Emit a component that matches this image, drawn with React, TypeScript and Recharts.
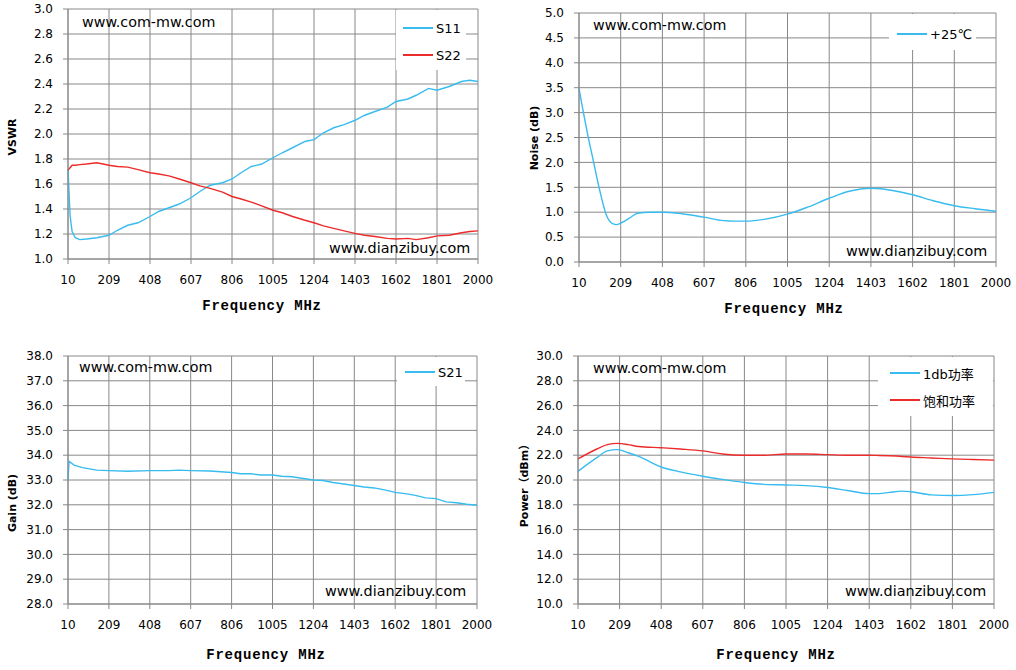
import React from 'react';
import { LineChart, Line, XAxis, YAxis, CartesianGrid } from 'recharts';

// ---------- shared axis ----------
const freqTicks = [10, 209, 408, 607, 806, 1005, 1204, 1403, 1602, 1801, 2000];

// ---------- chart 1: VSWR ----------
const vswrFreq = [10, 20, 30, 45, 67, 100, 150, 209, 250, 300, 350, 408, 450, 500, 550, 607, 650, 700, 760, 806, 850, 900, 950, 1005, 1050, 1100, 1160, 1204, 1250, 1300, 1350, 1403, 1450, 1500, 1560, 1602, 1660, 1700, 1760, 1801, 1860, 1920, 1960, 2000];
const s11 = [1.72, 1.35, 1.22, 1.17, 1.155, 1.16, 1.17, 1.19, 1.23, 1.27, 1.29, 1.34, 1.38, 1.41, 1.44, 1.49, 1.54, 1.59, 1.61, 1.64, 1.69, 1.74, 1.76, 1.81, 1.85, 1.89, 1.94, 1.955, 2.01, 2.05, 2.075, 2.11, 2.15, 2.18, 2.215, 2.26, 2.28, 2.31, 2.365, 2.35, 2.38, 2.42, 2.43, 2.42];
const s22 = [1.71, 1.73, 1.75, 1.75, 1.755, 1.76, 1.77, 1.75, 1.74, 1.735, 1.715, 1.69, 1.68, 1.665, 1.64, 1.61, 1.585, 1.565, 1.535, 1.5, 1.48, 1.455, 1.425, 1.39, 1.37, 1.34, 1.31, 1.29, 1.265, 1.245, 1.225, 1.205, 1.19, 1.18, 1.165, 1.16, 1.165, 1.155, 1.17, 1.185, 1.19, 1.21, 1.22, 1.225];
const vswrTicks = [1.0, 1.2, 1.4, 1.6, 1.8, 2.0, 2.2, 2.4, 2.6, 2.8, 3.0];

// ---------- chart 2: Noise ----------
const noiseFreq = [10, 50, 80, 110, 140, 170, 190, 209, 250, 290, 350, 408, 500, 607, 700, 750, 806, 900, 1005, 1100, 1204, 1300, 1403, 1450, 1500, 1602, 1700, 1801, 1900, 2000];
const noise25 = [3.48, 2.59, 2.0, 1.42, 0.95, 0.77, 0.75, 0.78, 0.88, 0.98, 1.0, 1.0, 0.97, 0.9, 0.83, 0.82, 0.82, 0.86, 0.96, 1.1, 1.28, 1.42, 1.48, 1.47, 1.44, 1.35, 1.23, 1.13, 1.07, 1.02];
const noiseTicks = [0, 0.5, 1.0, 1.5, 2.0, 2.5, 3.0, 3.5, 4.0, 4.5, 5.0];

// ---------- chart 3: Gain ----------
const gainFreq = [10, 15, 40, 80, 150, 209, 300, 408, 500, 550, 607, 700, 806, 850, 900, 950, 1005, 1050, 1100, 1204, 1250, 1300, 1403, 1450, 1500, 1550, 1602, 1650, 1700, 1750, 1801, 1850, 1900, 1950, 2000];
const s21 = [33.0, 33.75, 33.6, 33.5, 33.4, 33.38, 33.35, 33.38, 33.38, 33.4, 33.38, 33.36, 33.3, 33.25, 33.25, 33.2, 33.2, 33.15, 33.13, 33.0, 32.98, 32.9, 32.78, 32.72, 32.68, 32.6, 32.5, 32.45, 32.38, 32.28, 32.25, 32.12, 32.08, 32.02, 31.98];
const gainTicks = [28, 29, 30, 31, 32, 33, 34, 35, 36, 37, 38];

// ---------- chart 4: Power ----------
const powerFreq = [10, 100, 150, 200, 250, 300, 408, 500, 607, 700, 806, 900, 1005, 1100, 1204, 1300, 1403, 1450, 1500, 1560, 1602, 1700, 1801, 1900, 2000];
const p1db = [20.7, 21.8, 22.35, 22.45, 22.2, 21.9, 21.05, 20.65, 20.3, 20.05, 19.8, 19.65, 19.6, 19.55, 19.4, 19.15, 18.9, 18.9, 19.0, 19.1, 19.05, 18.8, 18.75, 18.82, 19.0];
const psat = [21.7, 22.5, 22.85, 22.95, 22.85, 22.7, 22.6, 22.5, 22.35, 22.1, 22.0, 22.0, 22.1, 22.1, 22.05, 22.0, 22.0, 21.98, 21.95, 21.9, 21.85, 21.78, 21.7, 21.65, 21.6];
const powerTicks = [10, 12, 14, 16, 18, 20, 22, 24, 26, 28, 30];

const BLUE = '#38BCEF';
const RED = '#EC2B2B';
const GRID = '#888888';
const SANS = '"DejaVu Sans", "Noto Sans CJK SC", sans-serif';
const MONO = '"Liberation Mono", "DejaVu Sans Mono", monospace';

type Series = { key: string; name: string; color: string; values: number[] };

type PanelProps = {
  left: number; top: number; width: number; height: number;
  plot: { x1: number; y1: number; x2: number; y2: number }; // page coords
  freq: number[];
  series: Series[];
  yTicks: number[];
  yTitle: string;
  yTitlePos: [number, number];
  xTitlePos: [number, number];
  curve: 'linear' | 'monotone';
  legendBox: { x: number; y: number; w: number; h: number };
  legendItems: { lineX: number; y: number }[];
  mark1: [number, number];
  mark2: [number, number];
};

function Panel(p: PanelProps) {
  const data = p.freq.map((f, i) => {
    const row: Record<string, number> = { f };
    p.series.forEach((s) => { row[s.key] = s.values[i]; });
    return row;
  });
  const yW = p.plot.x1 - p.left;
  const mTop = p.plot.y1 - p.top;
  const mRight = p.left + p.width - p.plot.x2;
  const xH = p.top + p.height - p.plot.y2;
  const yt: [number, number] = [p.yTitlePos[0] - p.left, p.yTitlePos[1] - p.top];
  const xt: [number, number] = [p.xTitlePos[0] - p.left, p.xTitlePos[1] - p.top];
  return (
    <div style={{ position: 'absolute', left: p.left, top: p.top, width: p.width, height: p.height }}>
      <LineChart width={p.width} height={p.height} data={data} margin={{ top: mTop, right: mRight, left: 0, bottom: 0 }}>
        <CartesianGrid stroke={GRID} strokeWidth={1} />
        <XAxis
          dataKey="f" type="number" domain={[10, 2000]} ticks={freqTicks} interval={0}
          height={xH} tickSize={5} tickMargin={11}
          axisLine={{ stroke: GRID }} tickLine={{ stroke: GRID }}
          tick={{ fontFamily: SANS, fontSize: 12, fill: '#000' }}
          label={{
            content: () => (
              <text x={xt[0]} y={xt[1]} textAnchor="middle" dominantBaseline="central"
                fontFamily={MONO} fontWeight="bold" fontSize={14} letterSpacing={0.8} fill="#000">Frequency MHz</text>
            ),
          }}
        />
        <YAxis
          type="number" domain={[p.yTicks[0], p.yTicks[p.yTicks.length - 1]]} ticks={p.yTicks} interval={0}
          width={yW} tickSize={5} tickMargin={10}
          axisLine={{ stroke: GRID }} tickLine={{ stroke: GRID }}
          tickFormatter={(v: number) => v.toFixed(1)}
          tick={{ fontFamily: SANS, fontSize: 12, fill: '#000' }}
          label={{
            content: () => (
              <text x={yt[0]} y={yt[1]} transform={`rotate(-90 ${yt[0]} ${yt[1]})`} textAnchor="middle"
                dominantBaseline="central" fontFamily={SANS} fontWeight="bold" fontSize={11} fill="#000">{p.yTitle}</text>
            ),
          }}
        />
        {p.series.map((s) => (
          <Line key={s.key} dataKey={s.key} name={s.name} type={p.curve} stroke={s.color} strokeWidth={1.4}
            dot={false} activeDot={false} isAnimationActive={false} />
        ))}
      </LineChart>
      {/* legend */}
      <div style={{ position: 'absolute', left: p.legendBox.x - p.left, top: p.legendBox.y - p.top, width: p.legendBox.w, height: p.legendBox.h, background: '#fff' }} />
      {p.series.map((s, i) => {
        const it = p.legendItems[i];
        return (
          <div key={s.key} style={{ position: 'absolute', left: it.lineX - p.left, top: it.y - p.top - 9, height: 18, display: 'flex', alignItems: 'center', whiteSpace: 'nowrap' }}>
            <div style={{ width: 30, height: 1.5, background: s.color }} />
            <span style={{ marginLeft: 3, fontFamily: SANS, fontSize: 13, color: '#000' }}>{s.name}</span>
          </div>
        );
      })}
      {/* watermarks */}
      <div style={{ position: 'absolute', left: p.mark1[0] - p.left, top: p.mark1[1] - p.top - 10, height: 20, lineHeight: '20px', fontFamily: SANS, fontSize: 14.3, color: '#000', whiteSpace: 'nowrap' }}>www.com-mw.com</div>
      <div style={{ position: 'absolute', left: p.mark2[0] - p.left, top: p.mark2[1] - p.top - 10, height: 20, lineHeight: '20px', fontFamily: SANS, fontSize: 14.4, color: '#000', whiteSpace: 'nowrap' }}>www.dianzibuy.com</div>
    </div>
  );
}

export default function App() {
  return (
    <div style={{ position: 'absolute', left: 0, top: 0, width: 1016, height: 670, background: '#fff', overflow: 'hidden' }}>
      <Panel
        left={0} top={0} width={508} height={330}
        plot={{ x1: 68, y1: 9, x2: 478, y2: 259 }}
        freq={vswrFreq}
        series={[{ key: 's11', name: 'S11', color: BLUE, values: s11 }, { key: 's22', name: 'S22', color: RED, values: s22 }]}
        yTicks={vswrTicks} yTitle="VSWR" yTitlePos={[12, 137]} xTitlePos={[262, 306]}
        curve="linear"
        legendBox={{ x: 396, y: 10, w: 70, h: 60 }}
        legendItems={[{ lineX: 403, y: 28 }, { lineX: 403, y: 55 }]}
        mark1={[82, 22]} mark2={[329, 248]}
      />
      <Panel
        left={508} top={0} width={508} height={330}
        plot={{ x1: 579, y1: 13, x2: 996, y2: 262 }}
        freq={noiseFreq}
        series={[{ key: 'n25', name: '+25℃', color: BLUE, values: noise25 }]}
        yTicks={noiseTicks} yTitle="Noise (dB)" yTitlePos={[534, 138]} xTitlePos={[784, 309]}
        curve="monotone"
        legendBox={{ x: 889, y: 14, w: 87, h: 36 }}
        legendItems={[{ lineX: 897, y: 34 }]}
        mark1={[593, 25]} mark2={[846, 251]}
      />
      <Panel
        left={0} top={335} width={508} height={335}
        plot={{ x1: 68, y1: 356, x2: 477, y2: 604 }}
        freq={gainFreq}
        series={[{ key: 's21', name: 'S21', color: BLUE, values: s21 }]}
        yTicks={gainTicks} yTitle="Gain (dB)" yTitlePos={[12, 503]} xTitlePos={[266, 655]}
        curve="linear"
        legendBox={{ x: 397, y: 357, w: 68, h: 29 }}
        legendItems={[{ lineX: 405, y: 372 }]}
        mark1={[79, 367]} mark2={[325, 591]}
      />
      <Panel
        left={508} top={335} width={508} height={335}
        plot={{ x1: 578, y1: 356, x2: 994, y2: 604 }}
        freq={powerFreq}
        series={[{ key: 'p1', name: '1db功率', color: BLUE, values: p1db }, { key: 'ps', name: '饱和功率', color: RED, values: psat }]}
        yTicks={powerTicks} yTitle="Power（dBm）" yTitlePos={[524, 483]} xTitlePos={[776, 655]}
        curve="monotone"
        legendBox={{ x: 878, y: 357, w: 115, h: 59 }}
        legendItems={[{ lineX: 890, y: 373 }, { lineX: 890, y: 400 }]}
        mark1={[593, 368]} mark2={[845, 591]}
      />
    </div>
  );
}
